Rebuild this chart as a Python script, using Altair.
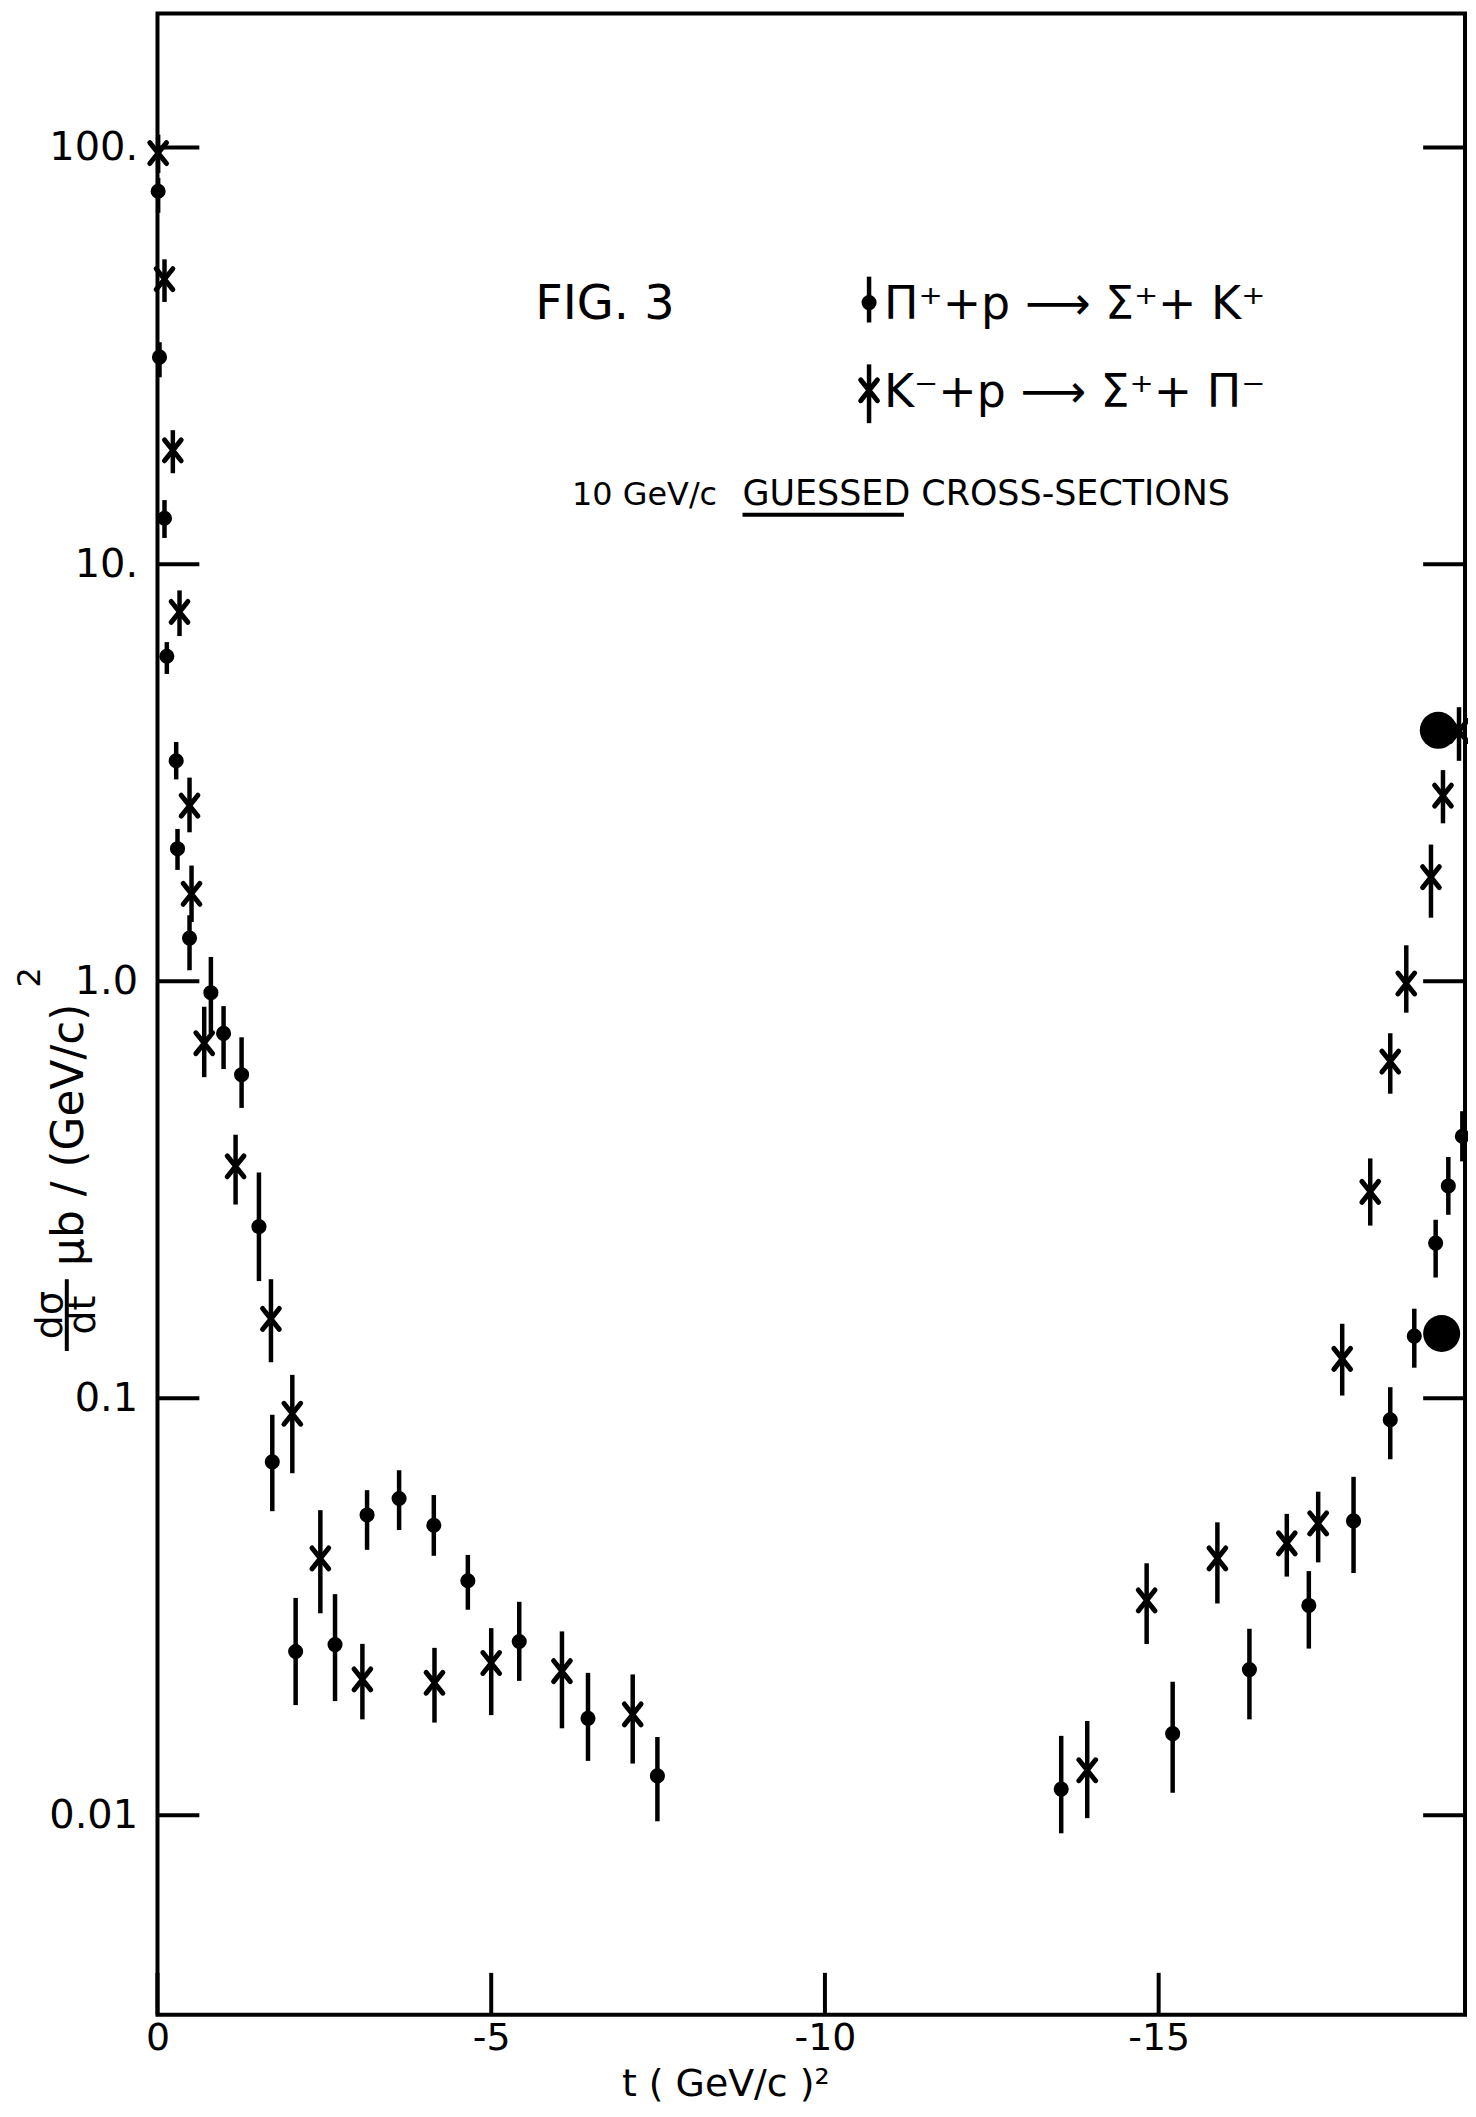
import altair as alt
import pandas as pd

# ---------------- data ----------------
# pi+ p -> Sigma+ K+  (dots)
pi_t = [-0.01, -0.03, -0.105, -0.14, -0.28, -0.30, -0.48, -0.80, -0.99, -1.26,
        -1.52, -1.72, -2.07, -2.66, -3.14, -3.62, -4.14, -4.65, -5.42, -6.45,
        -7.49, -13.54, -15.21, -16.36, -17.25, -17.92, -18.47, -18.83, -19.15,
        -19.34, -19.55]
pi_v = [78.5, 31.4, 12.9, 6.02, 3.38, 2.08, 1.27, 0.939, 0.750, 0.597,
        0.258, 0.0704, 0.0247, 0.02566, 0.0525, 0.0575, 0.0496, 0.0365, 0.0261, 0.01708,
        0.01243, 0.01155, 0.01569, 0.02235, 0.03185, 0.0508, 0.0888, 0.141, 0.2356,
        0.323, 0.425]
pi_lo = [69.7, 28.1, 11.57, 5.46, 3.05, 1.85, 1.063, 0.750, 0.616, 0.497,
         0.191, 0.0536, 0.01837, 0.01878, 0.0433, 0.0483, 0.0419, 0.0311, 0.0210, 0.0135,
         0.00967, 0.00905, 0.01132, 0.01698, 0.0251, 0.0381, 0.0714, 0.1184, 0.1948,
         0.2754, 0.370]
pi_hi = [84.5, 34.1, 14.26, 6.51, 3.75, 2.32, 1.44, 1.144, 0.872, 0.734,
         0.348, 0.0913, 0.0332, 0.0339, 0.0602, 0.0672, 0.0586, 0.0421, 0.0325, 0.02195,
         0.0154, 0.0155, 0.0209, 0.0280, 0.0385, 0.0648, 0.1063, 0.164, 0.268,
         0.379, 0.488]

# K- p -> Sigma+ pi-  (crosses)
k_t = [-0.01, -0.105, -0.23, -0.33, -0.48, -0.51, -0.70, -1.17, -1.70, -2.02,
       -2.44, -3.07, -4.15, -5.00, -6.06, -7.12, -13.93, -14.82, -15.88, -16.92,
       -17.39, -17.75, -18.17, -18.47, -18.71, -19.08, -19.26, -19.50]
k_v = [96.9, 48.3, 18.77, 7.69, 2.638, 1.621, 0.7104, 0.360, 0.155, 0.0918,
       0.0413, 0.02117, 0.02078, 0.02318, 0.02215, 0.01745, 0.01282, 0.03274, 0.0413, 0.04487,
       0.0501, 0.1243, 0.3126, 0.642, 0.988, 1.777, 2.787, 3.984]
k_lo = [86.8, 42.6, 16.54, 6.73, 2.277, 1.387, 0.589, 0.2915, 0.122, 0.0661,
        0.0305, 0.01698, 0.01668, 0.01738, 0.01616, 0.0133, 0.00984, 0.02574, 0.0322, 0.03735,
        0.0404, 0.1015, 0.2595, 0.5376, 0.841, 1.421, 2.393, 3.379]
k_hi = [107.3, 53.9, 20.98, 8.66, 3.08, 1.895, 0.869, 0.4286, 0.193, 0.1138,
        0.0539, 0.02576, 0.0252, 0.0281, 0.0276, 0.02176, 0.01683, 0.0402, 0.0504, 0.0528,
        0.0597, 0.1509, 0.376, 0.7506, 1.22, 2.128, 3.21, 4.544]

# two large ink blobs at the right edge
blob_t = [-19.19, -19.24]
blob_v = [4.0, 0.143]

y_tick_values = [100, 10, 1, 0.1, 0.01]
y_tick_labels = ["100.", "10.", "1.0", "0.1", "0.01"]
x_tick_values = [0, -5, -10, -15]
x_tick_labels = ["0", "-5", "-10", "-15"]

fig_label = "FIG. 3"
legend_pi = "Π⁺+p ⟶ Σ⁺+ K⁺"
legend_k = "K⁻+p ⟶ Σ⁺+ Π⁻"
note_momentum = "10 GeV/c"
note_guessed = "GUESSED CROSS-SECTIONS"
x_title = "t ( GeV/c )²"
y_title_num = "dσ"
y_title_den = "dt"
y_title_unit = "μb / (GeV/c)"
y_title_sup = "2"

# ---------------- layout ----------------
W, H = 1312, 2008
X_DOMAIN = [0, -19.59]
Y_DOMAIN = [0.003323, 209.4]
FONT = "DejaVu Sans"
TL = 42  # tick length

def build_expr(values, labels, suffix_neg=""):
    expr = "''"
    for val, lab in zip(values, labels):
        tol = abs(val) * 1e-6 + 1e-9
        lab2 = lab + (suffix_neg if val < 0 else "")
        expr = f"abs(datum.value - ({val})) < {tol} ? '{lab2}' : " + expr
    return expr

x_axis = alt.Axis(values=x_tick_values,
                  labelExpr=build_expr(x_tick_values, x_tick_labels, "\u2002\u2009"),
                  ticks=False, domain=False, grid=False, title=None, labelFont=FONT,
                  labelFontSize=38, labelColor="black", labelPadding=5, labelFlush=False,
                  labelOverlap=False)
y_axis = alt.Axis(values=y_tick_values, labelExpr=build_expr(y_tick_values, y_tick_labels),
                  ticks=False, domain=False, grid=False, title=None, labelFont=FONT,
                  labelFontSize=40, labelColor="black", labelPadding=20, labelOverlap=False)

def xq(field="t"):
    return alt.X(f"{field}:Q", scale=alt.Scale(domain=X_DOMAIN, nice=False, zero=False), axis=x_axis)

def yq(field="v"):
    return alt.Y(f"{field}:Q", scale=alt.Scale(type="log", domain=Y_DOMAIN, nice=False), axis=y_axis)

pi_df = pd.DataFrame({"t": pi_t, "v": pi_v, "lo": pi_lo, "hi": pi_hi})
k_df = pd.DataFrame({"t": k_t, "v": k_v, "lo": k_lo, "hi": k_hi})
blob_df = pd.DataFrame({"t": blob_t, "v": blob_v})
ytick_df = pd.DataFrame({"v": y_tick_values})
xtick_df = pd.DataFrame({"t": x_tick_values})
one = pd.DataFrame({"k": [0]})

X_SHAPE = "M-0.8,-1L0.8,1M-0.8,1L0.8,-1"

layers = []
# error bars
for df in (pi_df, k_df):
    layers.append(alt.Chart(df).mark_rule(color="black", strokeWidth=4.5).encode(
        x=xq(), y=yq("lo"), y2="hi:Q"))
# dots
layers.append(alt.Chart(pi_df).mark_point(shape="circle", filled=True, color="black",
                                          size=230, opacity=1).encode(x=xq(), y=yq()))
# crosses
layers.append(alt.Chart(k_df).mark_point(shape=X_SHAPE, filled=False, color="black",
                                         size=440, strokeWidth=5, strokeCap="round",
                                         opacity=1).encode(x=xq(), y=yq()))
# blobs
layers.append(alt.Chart(blob_df).mark_point(shape="circle", filled=True, color="black",
                                            size=1380, opacity=1).encode(x=xq(), y=yq()))
# inward ticks
layers.append(alt.Chart(ytick_df).mark_rule(color="black", strokeWidth=4).encode(
    y=yq(), x=alt.value(0), x2=alt.value(TL)))
layers.append(alt.Chart(ytick_df).mark_rule(color="black", strokeWidth=4).encode(
    y=yq(), x=alt.value(W - TL), x2=alt.value(W)))
layers.append(alt.Chart(xtick_df).mark_rule(color="black", strokeWidth=4).encode(
    x=xq(), y=alt.value(H), y2=alt.value(H - TL)))

# legend and annotations
def txt(s, x, y, size, align="left", baseline="alphabetic", angle=0):
    return alt.Chart(one).mark_text(text=s, font=FONT, fontSize=size, align=align,
                                    baseline=baseline, angle=angle, color="black").encode(
        x=alt.value(x), y=alt.value(y))

layers.append(txt(fig_label, 379, 306, 48))
layers.append(txt(legend_pi, 729, 306, 46))
layers.append(txt(legend_k, 729, 395, 46))
layers.append(txt(note_momentum, 416, 493, 32))
layers.append(txt(note_guessed, 587, 493, 35))
layers.append(alt.Chart(one).mark_rule(color="black", strokeWidth=4).encode(
    x=alt.value(587), x2=alt.value(749), y=alt.value(503)))
# legend markers
layers.append(alt.Chart(one).mark_rule(color="black", strokeWidth=4.5).encode(
    x=alt.value(714), y=alt.value(264), y2=alt.value(310)))
layers.append(alt.Chart(one).mark_point(shape="circle", filled=True, color="black",
                                        size=230, opacity=1).encode(
    x=alt.value(714), y=alt.value(290)))
layers.append(alt.Chart(one).mark_rule(color="black", strokeWidth=4.5).encode(
    x=alt.value(714), y=alt.value(352), y2=alt.value(411)))
layers.append(alt.Chart(one).mark_point(shape=X_SHAPE, filled=False, color="black",
                                        size=440, strokeWidth=5, strokeCap="round",
                                        opacity=1).encode(
    x=alt.value(714), y=alt.value(378)))

# axis titles
layers.append(txt(x_title, 466, 2090, 38))
layers.append(txt(y_title_unit, -88, 1125, 44, align="center", baseline="middle", angle=270))
layers.append(txt(y_title_sup, -128, 967, 32, align="center", baseline="middle", angle=270))
layers.append(txt(y_title_num, -107, 1306, 38, align="center", baseline="middle", angle=270))
layers.append(txt(y_title_den, -74, 1306, 38, align="center", baseline="middle", angle=270))
layers.append(alt.Chart(one).mark_rule(color="black", strokeWidth=4).encode(
    x=alt.value(-91), y=alt.value(1270), y2=alt.value(1342)))

chart = alt.layer(*layers).properties(
    width=W, height=H,
    autosize=alt.AutoSizeParams(type="none"),
    padding={"left": 150, "top": 2, "right": 3, "bottom": 87},
    background="white",
).configure_view(stroke="black", strokeWidth=4)

chart.save("out.html", embed_options={"renderer": "svg", "actions": False})
